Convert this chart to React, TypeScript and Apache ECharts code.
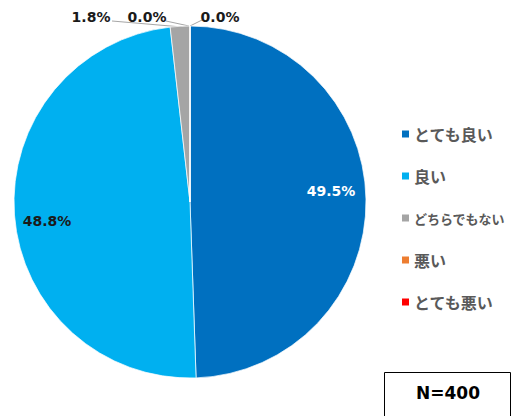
import React, { useEffect, useRef } from "react";
import * as echarts from "echarts";

const categories = ["とても良い", "良い", "どちらでもない", "悪い", "とても悪い"];
const values = [49.5, 48.8, 1.8, 0.0, 0.0];
const colors = ["#0070C0", "#00B0F0", "#A5A5A5", "#ED7D31", "#FF0000"];
const sampleLabel = "N=400";

const NUM_FONT = "'DejaVu Sans', sans-serif";
const JP_FONT = "'Noto Sans CJK JP', sans-serif";

// label placements (x, y) and leader-line points per slice
const labelPos: Record<number, any> = {
  0: { x: 331, y: 191 },
  1: { x: 47, y: 221 },
  2: { x: 91, y: 17, line: [[182, 27], [112, 21]] },
  3: { x: 147, y: 17, line: [[189, 26], [166, 21]] },
  4: { x: 220, y: 17, line: [[190, 26], [202, 20]] },
};
// legend text sizes (long label is set smaller, as in the reference)
const legendFontSizes = [16, 16, 13, 16, 16];

export default function App() {
  const ref = useRef<HTMLDivElement>(null);
  useEffect(() => {
    document.body.style.margin = "0";
    const chart = echarts.init(ref.current!, null, { renderer: "svg" });
    const data = categories.map((name, i) => {
      const inside = i < 2;
      return {
        name,
        value: values[i],
        itemStyle: { color: colors[i] },
        label: {
          position: inside ? "inside" : "outside",
          color: i === 0 ? "#ffffff" : "#1a1a1a",
        },
        labelLine: { show: !inside },
      };
    });
    chart.setOption({
      animation: false,
      legend: {
        orient: "vertical",
        left: 400,
        top: 126,
        padding: 0,
        icon: "rect",
        itemWidth: 9,
        itemHeight: 9,
        itemGap: 26,
        data: categories.map((name, i) => ({
          name,
          textStyle: { fontSize: legendFontSizes[i] },
        })),
        textStyle: {
          fontFamily: JP_FONT,
          fontWeight: "bold",
          fontSize: 16,
          lineHeight: 16,
          color: "#595959",
          padding: [0, 0, 0, -1],
        },
      },
      series: [
        {
          type: "pie",
          center: [190, 202],
          radius: 176,
          startAngle: 90,
          clockwise: true,
          data,
          itemStyle: { borderColor: "#ffffff", borderWidth: 0.7 },
          label: {
            show: true,
            fontFamily: NUM_FONT,
            fontWeight: "bold",
            fontSize: 14,
            formatter: (p: any) => Number(p.value).toFixed(1) + "%",
          },
          labelLine: {
            show: true,
            length: 6,
            length2: 6,
            lineStyle: { color: "#A6A6A6", width: 1 },
          },
          labelLayout: (params: any) => {
            const pos = labelPos[params.dataIndex];
            const out: any = {
              x: pos.x,
              y: pos.y,
              align: "center",
              verticalAlign: "middle",
            };
            if (pos.line) out.labelLinePoints = pos.line;
            return out;
          },
        },
      ],
      graphic: [
        {
          type: "rect",
          shape: { x: 384.5, y: 372.5, width: 126, height: 60 },
          style: { fill: "#ffffff", stroke: "#000000", lineWidth: 1 },
        },
        {
          type: "text",
          x: 448,
          y: 393,
          style: {
            text: sampleLabel,
            fontFamily: NUM_FONT,
            fontWeight: "bold",
            fontSize: 17,
            fill: "#000000",
            align: "center",
            verticalAlign: "middle",
          },
        },
      ],
    });
    return () => chart.dispose();
  }, []);
  return <div ref={ref} style={{ width: 511, height: 416 }} />;
}
